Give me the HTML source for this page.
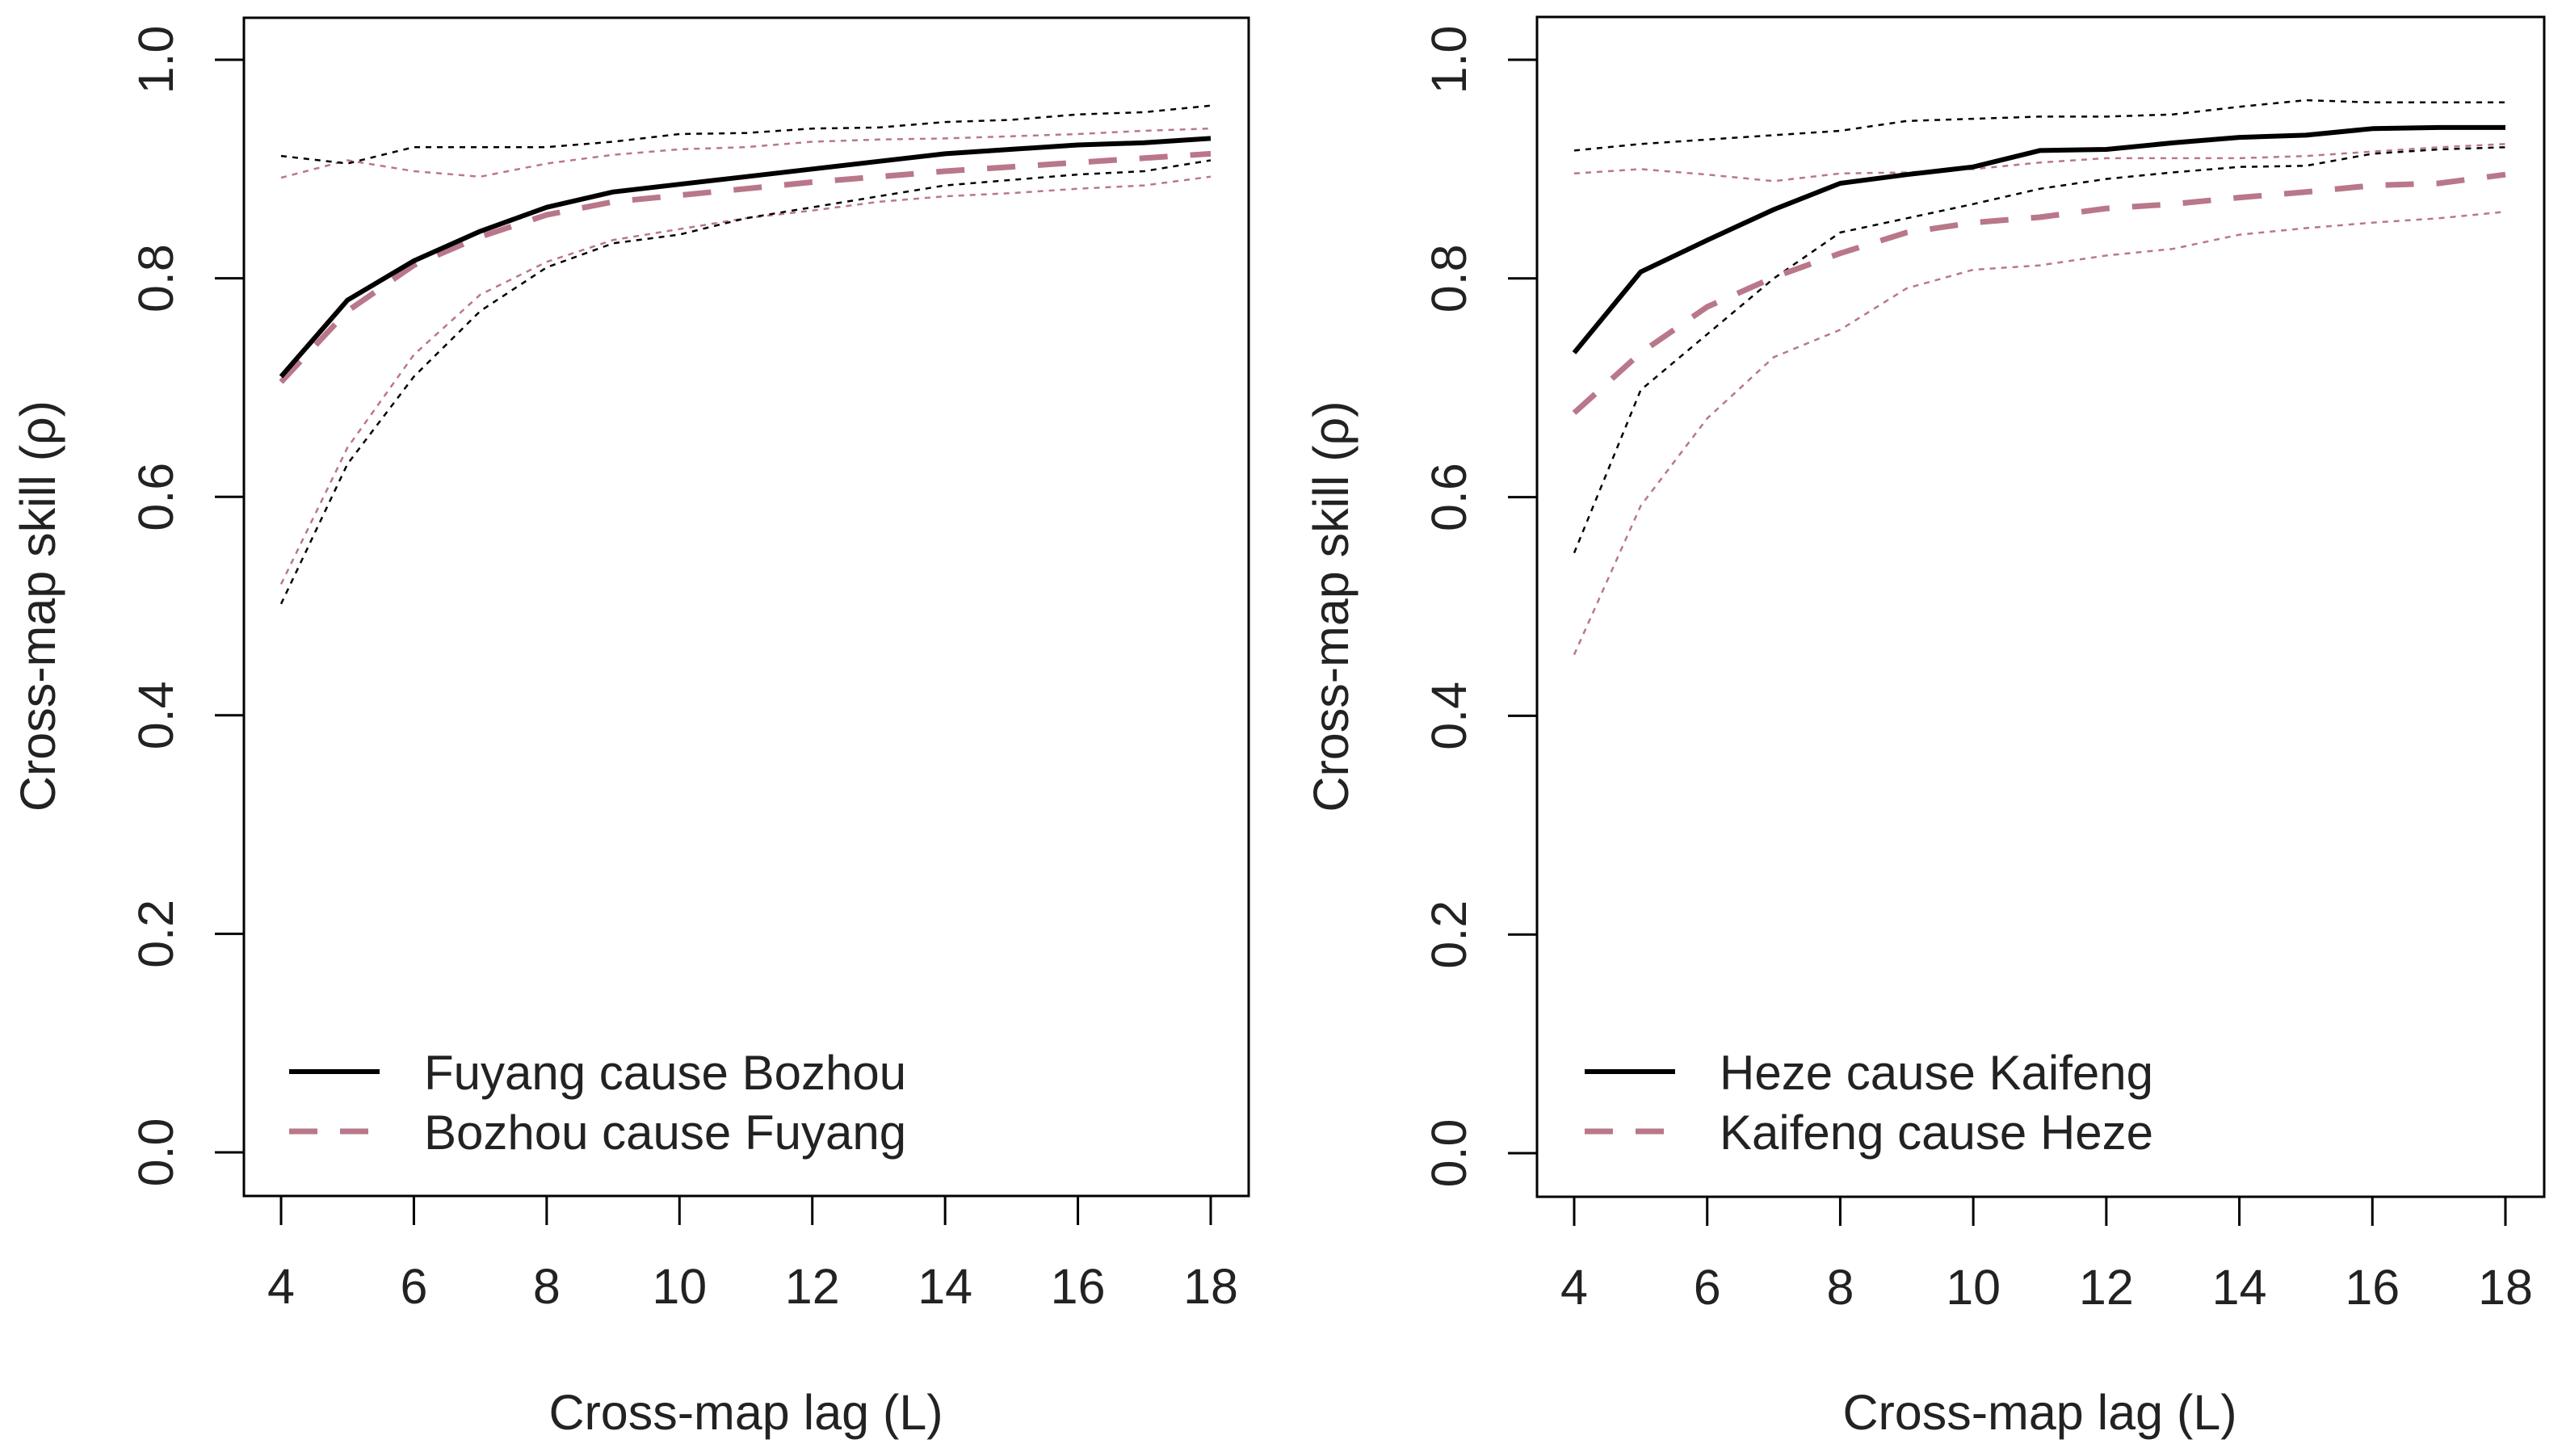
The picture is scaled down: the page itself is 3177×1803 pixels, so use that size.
<!DOCTYPE html>
<html><head><meta charset="utf-8">
<style>
html,body{margin:0;padding:0;background:#fff;}
svg{display:block;font-family:"Liberation Sans",Arial,sans-serif;}
</style></head>
<body>
<svg id="chart" width="3177" height="1803" viewBox="0 0 3177 1803" xmlns="http://www.w3.org/2000/svg">
<rect width="3177" height="1803" fill="#fff"/>
</svg>
<script>
const lags = [4,5,6,7,8,9,10,11,12,13,14,15,16,17,18];
const xTicks = [4,6,8,10,12,14,16,18];
const yTicks = [0.0,0.2,0.4,0.6,0.8,1.0];
const yTickLabels = ["0.0","0.2","0.4","0.6","0.8","1.0"];

// Left panel
const leftSolid = [0.71,0.78,0.816,0.843,0.865,0.879,0.886,0.893,0.900,0.907,0.914,0.918,0.922,0.924,0.928];
const leftDashed = [0.705,0.77,0.812,0.838,0.858,0.870,0.876,0.882,0.888,0.893,0.898,0.902,0.906,0.910,0.914];
const leftBlackUpper = [0.912,0.905,0.92,0.92,0.92,0.925,0.932,0.933,0.937,0.938,0.943,0.945,0.95,0.952,0.958];
const leftBlackLower = [0.502,0.63,0.71,0.77,0.81,0.832,0.84,0.855,0.865,0.875,0.885,0.89,0.895,0.898,0.908];
const leftPinkUpper = [0.892,0.908,0.898,0.893,0.905,0.913,0.918,0.92,0.925,0.927,0.928,0.93,0.932,0.935,0.937];
const leftPinkLower = [0.52,0.645,0.73,0.785,0.815,0.835,0.845,0.855,0.862,0.87,0.875,0.878,0.882,0.885,0.893];
const leftLegend = ["Fuyang cause Bozhou","Bozhou cause Fuyang"];

// Right panel
const rightSolid = [0.732,0.806,0.835,0.863,0.887,0.895,0.902,0.917,0.918,0.924,0.929,0.931,0.937,0.938,0.938];
const rightDashed = [0.677,0.732,0.774,0.801,0.823,0.842,0.851,0.856,0.864,0.868,0.874,0.879,0.885,0.887,0.895];
const rightBlackUpper = [0.917,0.923,0.927,0.931,0.935,0.944,0.946,0.948,0.948,0.95,0.957,0.963,0.961,0.961,0.961];
const rightBlackLower = [0.549,0.698,0.749,0.8,0.842,0.855,0.868,0.882,0.891,0.897,0.902,0.903,0.914,0.918,0.92];
const rightPinkUpper = [0.896,0.9,0.895,0.889,0.896,0.897,0.9,0.906,0.91,0.91,0.91,0.912,0.916,0.92,0.923];
const rightPinkLower = [0.456,0.592,0.672,0.728,0.753,0.791,0.808,0.812,0.821,0.827,0.84,0.846,0.851,0.855,0.861];
const rightLegend = ["Heze cause Kaifeng","Kaifeng cause Heze"];

const PINK = "#b9778a";
const svg = document.getElementById('chart');
const NS = "http://www.w3.org/2000/svg";
function mk(tag, attrs){ const e=document.createElementNS(NS,tag); for(const k in attrs) e.setAttribute(k,attrs[k]); svg.appendChild(e); return e; }

function panel(p, id){
  const xs = v => p.x4 + (v-4)*(p.x18-p.x4)/14;
  const ys = v => p.y0 + v*(p.y1-p.y0);
  const box = mk('rect',{x:p.bl,y:p.bt,width:p.br-p.bl,height:p.bb-p.bt,fill:'none',stroke:'#000','stroke-width':3});
  
  
  xTicks.forEach(t=>{
    const l = mk('line',{x1:xs(t),x2:xs(t),y1:p.bb,y2:p.bb+36,stroke:'#000','stroke-width':3});
    
    
    const tx = mk('text',{x:xs(t),y:p.bb+133,'font-size':61,'text-anchor':'middle',fill:'#222'});
    
    
    tx.textContent = t;
  });
  yTicks.forEach((t,i)=>{
    const y = ys(t);
    const l = mk('line',{x1:p.bl-36,x2:p.bl,y1:y,y2:y,stroke:'#000','stroke-width':3});
    
    
    const tx = mk('text',{x:0,y:0,'font-size':61,'text-anchor':'middle',fill:'#222',transform:`translate(${p.bl-88},${y}) rotate(-90)`});
    
    
    tx.textContent = yTickLabels[i];
  });
  const xt = mk('text',{x:(p.x4+p.x18)/2,y:1770,'font-size':61,'text-anchor':'middle',fill:'#222'});
  
  
  xt.textContent = "Cross-map lag (L)";
  const yt = mk('text',{x:0,y:0,'font-size':61,'text-anchor':'middle',fill:'#222',transform:`translate(${p.bl-234},${(ys(0)+ys(1))/2}) rotate(-90)`});
  
  
  yt.textContent = "Cross-map skill (\u03C1)";

  function line(vals, color, w, dash, name){
    const d = vals.map((v,i)=>(i?'L':'M')+xs(lags[i]).toFixed(1)+','+ys(v).toFixed(1)).join(' ');
    const a = {d:d,fill:'none',stroke:color,'stroke-width':w,'stroke-linejoin':'round'};
    if(dash) a['stroke-dasharray']=dash;
    const e = mk('path',a);
    
    
  }
  line(p.pu, PINK, 2.5, '7 7', id+'-pink-upper-bound');
  line(p.pl, PINK, 2.5, '7 7', id+'-pink-lower-bound');
  line(p.bu, '#000', 2.5, '7 7', id+'-black-upper-bound');
  line(p.blw, '#000', 2.5, '7 7', id+'-black-lower-bound');
  line(p.dashed, PINK, 7, '35 28', id+'-dashed-series');
  line(p.solid, '#000', 6, null, id+'-solid-series');

  const ly1 = 1327, ly2 = 1401;
  const l1 = mk('line',{x1:p.lx,x2:p.lx+112,y1:ly1,y2:ly1,stroke:'#000','stroke-width':6});
  
  
  const l2 = mk('line',{x1:p.lx,x2:p.lx+112,y1:ly2,y2:ly2,stroke:PINK,'stroke-width':7,'stroke-dasharray':'35 28'});
  
  
  const t1 = mk('text',{x:p.lx+167,y:ly1+22,'font-size':60,fill:'#222'});
  
  
  t1.textContent = p.legend[0];
  const t2 = mk('text',{x:p.lx+167,y:ly2+22,'font-size':60,fill:'#222'});
  
  
  t2.textContent = p.legend[1];
}

panel({bl:302,br:1546,bt:22,bb:1481,x4:348,x18:1499,y0:1427,y1:74,lx:358,
  solid:leftSolid,dashed:leftDashed,bu:leftBlackUpper,blw:leftBlackLower,pu:leftPinkUpper,pl:leftPinkLower,legend:leftLegend},'left-panel');
panel({bl:1903,br:3150,bt:21,bb:1482,x4:1949,x18:3102,y0:1428,y1:74,lx:1962,
  solid:rightSolid,dashed:rightDashed,bu:rightBlackUpper,blw:rightBlackLower,pu:rightPinkUpper,pl:rightPinkLower,legend:rightLegend},'right-panel');
</script>
</body></html>
